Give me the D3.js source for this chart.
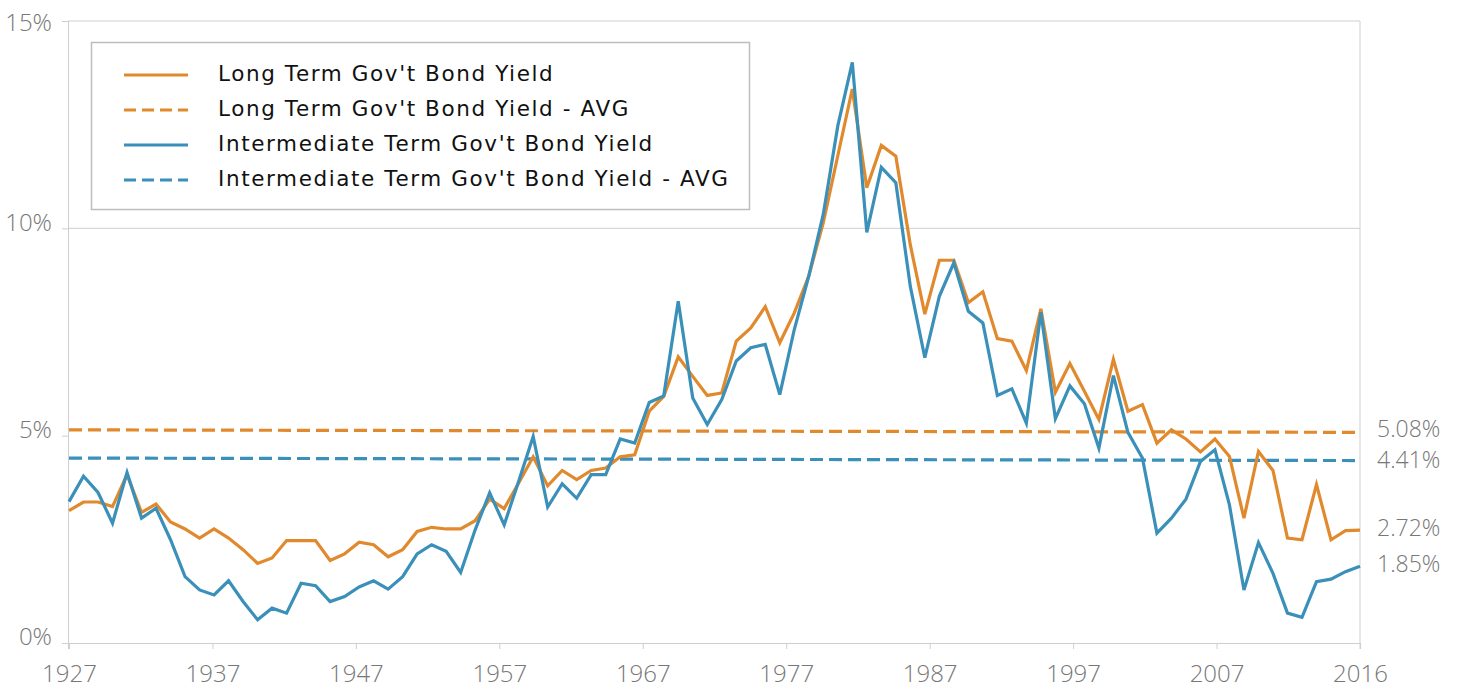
<!DOCTYPE html>
<html lang="en">
<head>
<meta charset="utf-8">
<title>Gov't Bond Yields</title>
<script src="https://d3js.org/d3.v7.min.js"></script>
<style>
  body { margin: 0; background: #fff; }
  text { font-family: "Open Sans", "Lato", sans-serif; }
</style>
</head>
<body>
<script>
// data, one value per year 1927..2016
var firstYear = 1927, lastYear = 2016;
var longYield = [3.19, 3.40, 3.40, 3.29, 4.06, 3.15, 3.35, 2.92, 2.75, 2.53,
  2.75, 2.53, 2.25, 1.92, 2.05, 2.47, 2.47, 2.47, 1.99, 2.15,
  2.43, 2.37, 2.08, 2.25, 2.69, 2.79, 2.75, 2.75, 2.95, 3.47,
  3.24, 3.86, 4.49, 3.79, 4.16, 3.94, 4.16, 4.22, 4.49, 4.54,
  5.59, 5.95, 6.90, 6.43, 5.97, 6.03, 7.28, 7.60, 8.11, 7.24,
  7.96, 8.85, 10.14, 11.75, 13.36, 10.98, 12.00, 11.74, 9.60, 7.93,
  9.23, 9.23, 8.21, 8.47, 7.34, 7.28, 6.57, 8.06, 6.05, 6.74,
  6.07, 5.39, 6.84, 5.59, 5.75, 4.82, 5.14, 4.92, 4.61, 4.92,
  4.50, 3.01, 4.62, 4.16, 2.53, 2.49, 3.82, 2.49, 2.71, 2.72];
var interYield = [3.41, 4.02, 3.63, 2.89, 4.11, 3.01, 3.25, 2.49, 1.60, 1.28,
  1.16, 1.50, 1.00, 0.56, 0.84, 0.72, 1.44, 1.38, 1.00, 1.12,
  1.35, 1.50, 1.30, 1.60, 2.15, 2.37, 2.21, 1.70, 2.73, 3.62,
  2.85, 3.90, 4.98, 3.28, 3.84, 3.49, 4.06, 4.06, 4.92, 4.82,
  5.80, 5.96, 8.24, 5.91, 5.27, 5.87, 6.80, 7.12, 7.20, 5.99,
  7.56, 8.85, 10.34, 12.47, 14.00, 9.90, 11.47, 11.10, 8.60, 6.88,
  8.36, 9.17, 8.00, 7.72, 5.97, 6.13, 5.30, 7.98, 5.41, 6.20,
  5.77, 4.70, 6.45, 5.08, 4.46, 2.65, 3.01, 3.47, 4.38, 4.66,
  3.33, 1.28, 2.42, 1.68, 0.72, 0.62, 1.48, 1.54, 1.72, 1.85];
// average lines (start, end)
var longAvg = [5.14, 5.08];
var interAvg = [4.46, 4.40];
var endLabels = ["5.08%", "4.41%", "2.72%", "1.85%"];
var endValues = [5.08, 4.41, 2.72, 1.85];
var xTickLabels = ["1927", "1937", "1947", "1957", "1967", "1977", "1987", "1997", "2007", "2016"];
var yTicks = [0, 5, 10, 15];
var legendNames = ["Long Term Gov't Bond Yield", "Long Term Gov't Bond Yield - AVG",
  "Intermediate Term Gov't Bond Yield", "Intermediate Term Gov't Bond Yield - AVG"];

var w = 1465, h = 690;
var orange = "#e1892d", blue = "#3a90b9";
var grid = "#cfcfcf", labelCol = "#777777";

var svg = d3.select("body").append("svg").attr("width", w).attr("height", h);

var x = d3.scaleLinear().domain([firstYear, lastYear]).range([69, 1360]);
var y = d3.scaleLinear().domain([0, 15]).range([643, 21]);

// gridlines
svg.append("g").selectAll("line")
  .data([10, 15]).enter().append("line")
  .attr("x1", 68).attr("x2", 1360)
  .attr("y1", d => y(d)).attr("y2", d => y(d))
  .attr("stroke", grid).attr("stroke-width", 1);
svg.append("line").attr("x1", 1360).attr("x2", 1360)
  .attr("y1", y(15)).attr("y2", y(0) + 6)
  .attr("stroke", grid);

// axes
var tickPos = xTickLabels.map((d, i) => firstYear + i * (lastYear - firstYear) / (xTickLabels.length - 1));
var xAxis = d3.axisBottom(x).tickValues(tickPos).tickFormat((d, i) => xTickLabels[i]).tickSize(6).tickSizeOuter(0);
var gx = svg.append("g").attr("transform", "translate(0," + y(0) + ")").call(xAxis);
gx.select(".domain").attr("stroke", grid).attr("d", "M68,0.5H1360");
gx.selectAll(".tick line").attr("stroke", grid);
gx.selectAll(".tick text").attr("y", 22).attr("fill", labelCol)
  .style("font-size", "24px").style("font-weight", 300);

var yAxis = d3.axisLeft(y).tickValues(yTicks).tickFormat(d => d + "%").tickSize(6).tickPadding(10).tickSizeOuter(0);
var gy = svg.append("g").attr("transform", "translate(68,0)").call(yAxis);
gy.select(".domain").attr("stroke", grid).attr("d", "M0.5," + y(15) + "V" + (y(0) + 6));
gy.selectAll(".tick line").attr("stroke", grid);
gy.selectAll(".tick text").attr("dy", d => d === 15 ? "0.4em" : "0.08em").attr("fill", labelCol)
  .style("font-size", "24px").style("font-weight", 300);

// lines
var line = d3.line().x((d, i) => x(firstYear + i)).y(d => y(d));
var avgLine = d3.line().x((d, i) => x(i ? lastYear : firstYear)).y(d => y(d));

svg.append("path").datum(longAvg).attr("d", avgLine).attr("fill", "none")
  .attr("stroke", orange).attr("stroke-width", 3.2).attr("stroke-dasharray", "13,6");
svg.append("path").datum(interAvg).attr("d", avgLine).attr("fill", "none")
  .attr("stroke", blue).attr("stroke-width", 3.2).attr("stroke-dasharray", "13,6");
svg.append("path").datum(longYield).attr("d", line).attr("fill", "none")
  .attr("stroke", orange).attr("stroke-width", 3.2).attr("stroke-linejoin", "miter");
svg.append("path").datum(interYield).attr("d", line).attr("fill", "none")
  .attr("stroke", blue).attr("stroke-width", 3.2).attr("stroke-linejoin", "miter");

// end labels, the two AVG labels nudged apart a little
var endShift = [-2, 2, 0, 0];
svg.append("g").selectAll("text")
  .data(endValues).enter().append("text")
  .attr("x", 1377).attr("y", (d, i) => y(d) + endShift[i])
  .attr("dominant-baseline", "middle")
  .attr("fill", labelCol).style("font-size", "23px").style("font-weight", 300)
  .text((d, i) => endLabels[i]);

// legend
var legend = svg.append("g");
legend.append("rect").attr("x", 91.5).attr("y", 42.5).attr("width", 658).attr("height", 167)
  .attr("fill", "#fff").attr("stroke", "#bdbdbd").attr("stroke-width", 1.5);
var legendColors = [orange, orange, blue, blue];
var legendDash = [null, "12,6", null, "12,6"];
var rows = legend.selectAll("g.row").data(legendNames).enter().append("g")
  .attr("class", "row")
  .attr("transform", (d, i) => "translate(0," + (75 + i * 35) + ")");
rows.append("line").attr("x1", 124).attr("x2", 188)
  .attr("stroke", (d, i) => legendColors[i]).attr("stroke-width", 3)
  .attr("stroke-dasharray", (d, i) => legendDash[i]);
rows.append("text").attr("x", 218).attr("dominant-baseline", "middle")
  .attr("fill", "#111").style("font-family", "'DejaVu Sans', sans-serif")
  .style("font-size", "21.5px").style("letter-spacing", "1.6px")
  .text(d => d);
</script>
</body>
</html>
